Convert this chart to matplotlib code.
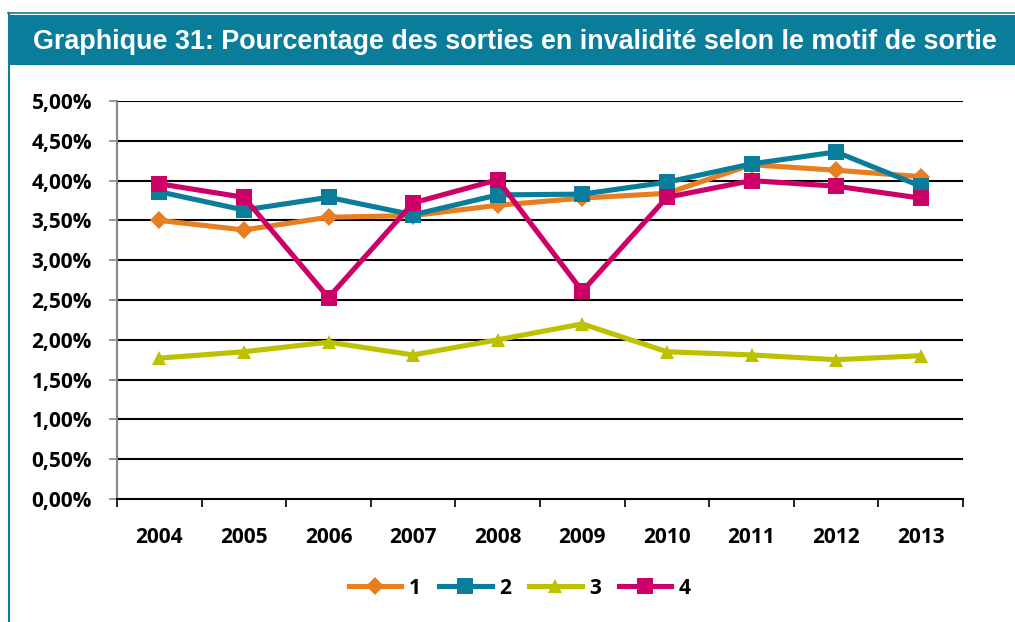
import matplotlib
matplotlib.use("Agg")
import matplotlib.pyplot as plt
from matplotlib.patches import Rectangle
from matplotlib.lines import Line2D
import numpy as np

years = ["2004", "2005", "2006", "2007", "2008", "2009", "2010", "2011", "2012", "2013"]
s1 = [3.50, 3.38, 3.54, 3.56, 3.69, 3.78, 3.84, 4.20, 4.13, 4.05]
s2 = [3.86, 3.63, 3.79, 3.57, 3.82, 3.83, 3.98, 4.21, 4.36, 3.93]
s3 = [1.77, 1.85, 1.97, 1.81, 2.00, 2.20, 1.85, 1.81, 1.75, 1.80]
s4 = [3.96, 3.79, 2.53, 3.72, 4.01, 2.61, 3.79, 4.00, 3.93, 3.78]
series_names = ["1", "2", "3", "4"]
yticks = [0, 0.5, 1.0, 1.5, 2.0, 2.5, 3.0, 3.5, 4.0, 4.5, 5.0]
title = "Graphique 31: Pourcentage des sorties en invalidité selon le motif de sortie"

W, H = 1015, 622
fig = plt.figure(figsize=(W / 100, H / 100), dpi=100)
fig.patch.set_facecolor("white")

teal = "#0A7D9A"
colors = ["#E87E22", "#0A7D9A", "#BDC200", "#CC0066"]
markers = ["D", "s", "^", "s"]
msizes = [9.5, 11, 10.5, 11]

# header band and frame
fig.patches.append(Rectangle((8 / W, 1 - 65 / H), 1 - 8 / W, 50 / H,
                             transform=fig.transFigure, facecolor=teal, edgecolor="none"))
fig.lines.append(Line2D([8 / W, 1], [1 - 13 / H, 1 - 13 / H], transform=fig.transFigure,
                        color=teal, lw=1.2))
fig.lines.append(Line2D([9 / W, 9 / W], [0, 1 - 13 / H], transform=fig.transFigure,
                        color=teal, lw=1.5))
fig.text(33 / W, 1 - 42 / H, title, color="white", fontsize=19.4, fontweight="bold",
         family="Liberation Sans", va="center", ha="left")

ax = fig.add_axes([117 / W, 1 - 499 / H, (963 - 117) / W, (499 - 101) / H])
x = np.arange(len(years))
for vals, c, m, ms, name in zip([s1, s2, s3, s4], colors, markers, msizes, series_names):
    ax.plot(x, vals, color=c, lw=3.7, marker=m, markersize=ms, markeredgewidth=0,
            label=name, solid_joinstyle="round", zorder=3)

ax.set_xlim(-0.5, len(years) - 0.5)
ax.set_ylim(0, 5.0)
ax.set_yticks(yticks)
ax.set_yticklabels([f"{v:.2f}%".replace(".", ",") for v in yticks])
for v in yticks[1:]:
    ax.axhline(v, color="black", lw=1.5, zorder=1)

ax.set_xticks(x)
ax.set_xticklabels(years)
ax.set_xticks(np.arange(-0.5, len(years)), minor=True)
ax.tick_params(axis="x", which="major", length=0, pad=20)
ax.tick_params(axis="x", which="minor", length=6, width=1.2, color="black")
ax.tick_params(axis="y", length=6, width=1.2, color="#888888", pad=12)

for lab in ax.get_xticklabels() + ax.get_yticklabels():
    lab.set_fontfamily("Open Sans")
    lab.set_fontweight("bold")
    lab.set_fontsize(15)

for side in ["top", "right"]:
    ax.spines[side].set_visible(False)
ax.spines["left"].set_color("#888888")
ax.spines["left"].set_linewidth(1.5)
ax.spines["bottom"].set_color("black")
ax.spines["bottom"].set_linewidth(1.5)

leg = fig.legend(loc="center", bbox_to_anchor=(520 / W, 1 - 588 / H), ncol=4, frameon=False,
                 handlelength=2.5, handletextpad=0.35, columnspacing=0.9,
                 prop={"family": "Open Sans", "weight": "bold", "size": 15})

fig.savefig("out.png", dpi=100, facecolor="white")
